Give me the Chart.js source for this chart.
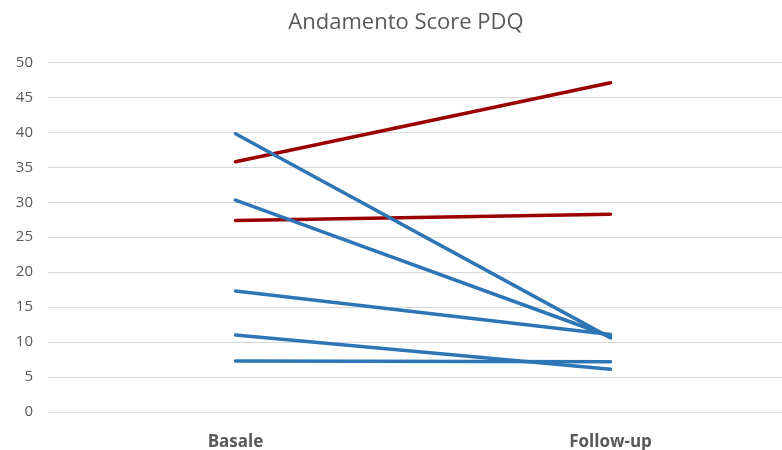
<!DOCTYPE html>
<html>
<head>
<meta charset="utf-8">
<script src="https://cdn.jsdelivr.net/npm/chart.js@4/dist/chart.umd.min.js"></script>
<style>
  html, body { margin: 0; padding: 0; background: #ffffff; overflow: hidden; }
  #wrap { width: 782px; height: 450px; overflow: hidden; position: relative; }
  canvas { display: block; }
</style>
</head>
<body>
<div id="wrap"><canvas id="chart" width="812" height="450"></canvas></div>
<script>
// Time points
const categories = ['Basale', 'Follow-up'];

// PDQ scores per patient (baseline, follow-up)
const improvedA = [39.8, 10.6];
const improvedB = [30.3, 10.8];
const improvedC = [17.3, 11.1];
const improvedD = [11.0, 6.1];
const stableE   = [7.3, 7.2];
const worsenedA = [35.8, 47.1];
const worsenedB = [27.4, 28.3];

const yTicks = { min: 0, max: 50, step: 5 };

const BLUE = '#2E75B6';
const RED = '#9B0000';
const TEXT = '#595959';

function series(data, color) {
  return {
    data: data,
    yAxisID: 'y',
    borderColor: color,
    backgroundColor: color,
    borderWidth: 3.5,
    borderCapStyle: 'round',
    borderJoinStyle: 'round',
    pointRadius: 0,
    pointHoverRadius: 0,
    tension: 0,
    fill: false
  };
}

new Chart(document.getElementById('chart'), {
  type: 'line',
  data: {
    labels: categories,
    datasets: [
      series(improvedA, BLUE),
      series(improvedB, BLUE),
      series(improvedC, BLUE),
      series(improvedD, BLUE),
      series(stableE, BLUE),
      series(worsenedA, RED),
      series(worsenedB, RED)
    ]
  },
  options: {
    responsive: false,
    animation: false,
    layout: { padding: 0 },
    plugins: {
      legend: { display: false },
      tooltip: { enabled: false },
      title: {
        display: true,
        text: 'Andamento Score PDQ',
        color: TEXT,
        font: { family: 'Open Sans', size: 22, weight: 'normal' },
        padding: { top: 10, bottom: 26 }
      }
    },
    scales: {
      x: {
        offset: true,
        grid: { display: false, drawTicks: false },
        border: { display: false },
        ticks: {
          color: TEXT,
          font: { family: 'Open Sans', size: 17, weight: 'bold' },
          padding: 20,
          maxRotation: 0
        },
        afterFit(scale) { scale.height = 38; }
      },
      y: {
        position: 'left',
        min: yTicks.min,
        max: yTicks.max,
        grid: { color: '#D9D9D9', lineWidth: 1, drawTicks: false },
        border: { display: false },
        ticks: {
          stepSize: yTicks.step,
          color: TEXT,
          font: { family: 'Open Sans', size: 15 },
          padding: 15
        },
        afterFit(scale) { scale.width = 48; }
      },
      // empty right-hand margin so the plot keeps its width while the title stays centred
      yRight: {
        position: 'right',
        min: yTicks.min,
        max: yTicks.max,
        grid: { display: false, drawTicks: false },
        border: { display: false },
        ticks: { display: false },
        afterFit(scale) { scale.width = 14; }
      }
    }
  }
});
</script>
</body>
</html>
